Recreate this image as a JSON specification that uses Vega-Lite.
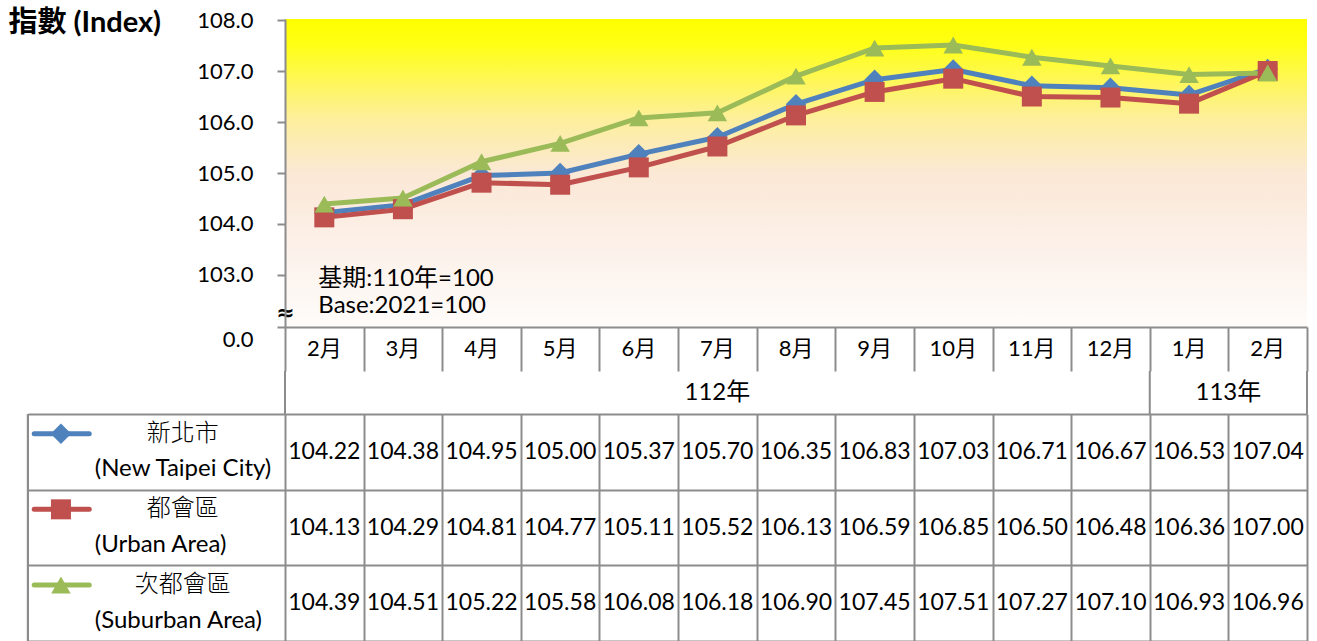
{
  "$schema": "https://vega.github.io/schema/vega-lite/v6.json",
  "background": "white",
  "padding": {"left": 8, "top": 8, "right": 8, "bottom": 0},
  "spacing": 0,
  "bounds": "flush",
  "resolve": {"scale": {"x": "independent", "y": "independent"}},
  "config": {
    "font": "Lato, 'Noto Sans CJK TC'",
    "view": {"stroke": null},
    "axis": {"gridColor": "#8c8c8c", "gridWidth": 2, "gridOpacity": 1, "domainColor": "#8c8c8c", "domainWidth": 2, "tickColor": "#8c8c8c", "tickWidth": 2}
  },
  "datasets": {
    "main": [
      {"key": "112年2月", "series": "新北市", "value": 104.22},
      {"key": "112年3月", "series": "新北市", "value": 104.38},
      {"key": "112年4月", "series": "新北市", "value": 104.95},
      {"key": "112年5月", "series": "新北市", "value": 105.00},
      {"key": "112年6月", "series": "新北市", "value": 105.37},
      {"key": "112年7月", "series": "新北市", "value": 105.70},
      {"key": "112年8月", "series": "新北市", "value": 106.35},
      {"key": "112年9月", "series": "新北市", "value": 106.83},
      {"key": "112年10月", "series": "新北市", "value": 107.03},
      {"key": "112年11月", "series": "新北市", "value": 106.71},
      {"key": "112年12月", "series": "新北市", "value": 106.67},
      {"key": "113年1月", "series": "新北市", "value": 106.53},
      {"key": "113年2月", "series": "新北市", "value": 107.04},
      {"key": "112年2月", "series": "都會區", "value": 104.13},
      {"key": "112年3月", "series": "都會區", "value": 104.29},
      {"key": "112年4月", "series": "都會區", "value": 104.81},
      {"key": "112年5月", "series": "都會區", "value": 104.77},
      {"key": "112年6月", "series": "都會區", "value": 105.11},
      {"key": "112年7月", "series": "都會區", "value": 105.52},
      {"key": "112年8月", "series": "都會區", "value": 106.13},
      {"key": "112年9月", "series": "都會區", "value": 106.59},
      {"key": "112年10月", "series": "都會區", "value": 106.85},
      {"key": "112年11月", "series": "都會區", "value": 106.50},
      {"key": "112年12月", "series": "都會區", "value": 106.48},
      {"key": "113年1月", "series": "都會區", "value": 106.36},
      {"key": "113年2月", "series": "都會區", "value": 107.00},
      {"key": "112年2月", "series": "次都會區", "value": 104.39},
      {"key": "112年3月", "series": "次都會區", "value": 104.51},
      {"key": "112年4月", "series": "次都會區", "value": 105.22},
      {"key": "112年5月", "series": "次都會區", "value": 105.58},
      {"key": "112年6月", "series": "次都會區", "value": 106.08},
      {"key": "112年7月", "series": "次都會區", "value": 106.18},
      {"key": "112年8月", "series": "次都會區", "value": 106.90},
      {"key": "112年9月", "series": "次都會區", "value": 107.45},
      {"key": "112年10月", "series": "次都會區", "value": 107.51},
      {"key": "112年11月", "series": "次都會區", "value": 107.27},
      {"key": "112年12月", "series": "次都會區", "value": 107.10},
      {"key": "113年1月", "series": "次都會區", "value": 106.93},
      {"key": "113年2月", "series": "次都會區", "value": 106.96}
    ],
    "months": [
      {"key": "112年2月", "month": "2月"},
      {"key": "112年3月", "month": "3月"},
      {"key": "112年4月", "month": "4月"},
      {"key": "112年5月", "month": "5月"},
      {"key": "112年6月", "month": "6月"},
      {"key": "112年7月", "month": "7月"},
      {"key": "112年8月", "month": "8月"},
      {"key": "112年9月", "month": "9月"},
      {"key": "112年10月", "month": "10月"},
      {"key": "112年11月", "month": "11月"},
      {"key": "112年12月", "month": "12月"},
      {"key": "113年1月", "month": "1月"},
      {"key": "113年2月", "month": "2月"}
    ],
    "legend": [
      {"series": "新北市", "en": "(New Taipei City)"},
      {"series": "都會區", "en": "(Urban Area)"},
      {"series": "次都會區", "en": "(Suburban Area)"}
    ]
  },
  "vconcat": [
    {
      "width": 1022,
      "height": 308,
      "view": {
        "stroke": null,
        "fill": {
          "gradient": "linear", "x1": 0, "y1": 0, "x2": 0, "y2": 1,
          "stops": [
            {"offset": 0, "color": "#ffff00"},
            {"offset": 0.08, "color": "#ffff14"},
            {"offset": 0.32, "color": "#fdef9a"},
            {"offset": 0.5, "color": "#fbe8d6"},
            {"offset": 0.75, "color": "#fcf1ea"},
            {"offset": 1, "color": "#fefcfa"}
          ]
        }
      },
      "layer": [
        {
          "data": {"name": "main"},
          "mark": {"type": "line", "strokeWidth": 5, "strokeJoin": "round", "strokeCap": "round"},
          "encoding": {
            "x": {
              "field": "key", "type": "ordinal", "sort": null,
              "scale": {"type": "point", "padding": 0.5, "domain": ["112年2月","112年3月","112年4月","112年5月","112年6月","112年7月","112年8月","112年9月","112年10月","112年11月","112年12月","113年1月","113年2月"]},
              "axis": {"orient": "bottom", "labels": false, "ticks": false, "domain": true, "grid": false, "title": null}
            },
            "y": {
              "field": "value", "type": "quantitative",
              "scale": {"domain": [101.98, 108.02], "nice": false, "zero": false},
              "axis": {
                "values": [101.98, 102.27, 103, 104, 105, 106, 107, 108],
                "labelExpr": "datum.value < 102.1 ? '0.0' : (datum.value < 102.5 ? '≈' : format(datum.value, '.1f'))",
                "labelOverlap": false,
                "labelFont": {"condition": {"test": "datum.value > 102.1 && datum.value < 102.5", "value": "DejaVu Sans"}, "value": "Lato"},
                "labelFontSize": {"condition": {"test": "datum.value > 102.1 && datum.value < 102.5", "value": 22}, "value": 22},
                "labelColor": "#000000",
                "grid": false,
                "domain": true,
                "tickSize": 8,
                "tickColor": {"condition": {"test": "datum.value > 102.1 && datum.value < 102.5", "value": "transparent"}, "value": "#8c8c8c"},
                "labelPadding": {"condition": {"test": "datum.value > 102.1 && datum.value < 102.5", "value": -8}, "value": 24},
                "labelAlign": {"condition": {"test": "datum.value > 102.1 && datum.value < 102.5", "value": "center"}, "value": "right"},
                "labelFontWeight": {"condition": {"test": "datum.value > 102.1 && datum.value < 102.5", "value": "bold"}, "value": "normal"},
                "labelOffset": {"condition": {"test": "datum.value < 102.1", "value": 12}, "value": 0},
                "title": "指數 (Index)",
                "titleAngle": 0,
                "titleAlign": "left",
                "titleBaseline": "middle",
                "titleX": -277,
                "titleY": 3,
                "titleFontSize": 29,
                "titleFontWeight": "bold",
                "titleColor": "#000000"
              }
            },
            "color": {"field": "series", "type": "nominal", "scale": {"domain": ["新北市", "都會區", "次都會區"], "range": ["#4F81BD", "#C0504D", "#9BBB59"]}, "legend": null}
          }
        },
        {
          "data": {"name": "main"},
          "mark": {"type": "point", "filled": true, "opacity": 1, "strokeWidth": 0},
          "encoding": {
            "x": {"field": "key", "type": "ordinal", "sort": null},
            "y": {"field": "value", "type": "quantitative"},
            "color": {"field": "series", "type": "nominal", "legend": null},
            "shape": {"field": "series", "type": "nominal", "scale": {"domain": ["新北市", "都會區", "次都會區"], "range": ["diamond", "square", "triangle-up"]}, "legend": null},
            "size": {"field": "series", "type": "nominal", "scale": {"domain": ["新北市", "都會區", "次都會區"], "range": [420, 380, 420]}, "legend": null}
          }
        },
        {
          "data": {"values": [{}]},
          "mark": {"type": "text", "align": "left", "baseline": "middle", "dx": -6, "fontSize": 24, "lineHeight": 27, "color": "#000000", "text": ["基期:110年=100", "Base:2021=100"]},
          "encoding": {
            "x": {"datum": "112年2月", "type": "ordinal"},
            "y": {"datum": 102.92, "type": "quantitative"}
          }
        }
      ]
    },
    {
      "width": 1022,
      "height": 44,
      "data": {"name": "months"},
      "mark": {"type": "text", "fontSize": 22, "color": "#000000", "baseline": "middle"},
      "encoding": {
        "x": {
          "field": "key", "type": "ordinal", "sort": null,
          "scale": {"type": "band", "paddingInner": 0, "paddingOuter": 0, "domain": ["112年2月","112年3月","112年4月","112年5月","112年6月","112年7月","112年8月","112年9月","112年10月","112年11月","112年12月","113年1月","113年2月"]},
          "axis": {"orient": "bottom", "grid": true, "tickBand": "extent", "labels": false, "ticks": false, "domain": false, "title": null}
        },
        "text": {"field": "month"}
      }
    },
    {
      "width": 1022,
      "height": 43,
      "layer": [
        {
          "data": {"values": [{"key": "112年2月"}, {"key": "113年1月"}]},
          "mark": {"type": "rule", "color": "#8c8c8c", "strokeWidth": 2},
          "encoding": {
            "x": {
              "field": "key", "type": "ordinal", "sort": null, "bandPosition": 0,
              "scale": {"type": "band", "paddingInner": 0, "paddingOuter": 0, "domain": ["112年2月","112年3月","112年4月","112年5月","112年6月","112年7月","112年8月","112年9月","112年10月","112年11月","112年12月","113年1月","113年2月"]},
              "axis": null
            }
          }
        },
        {
          "data": {"values": [{"key": "113年2月"}]},
          "mark": {"type": "rule", "color": "#8c8c8c", "strokeWidth": 2},
          "encoding": {
            "x": {"field": "key", "type": "ordinal", "sort": null, "bandPosition": 1, "axis": null}
          }
        },
        {
          "data": {"values": [{"key": "112年7月", "year": "112年"}]},
          "mark": {"type": "text", "fontSize": 24, "color": "#000000", "baseline": "middle"},
          "encoding": {
            "x": {"field": "key", "type": "ordinal", "sort": null, "bandPosition": 0.5, "axis": null},
            "text": {"field": "year"}
          }
        },
        {
          "data": {"values": [{"key": "113年2月", "year": "113年"}]},
          "mark": {"type": "text", "fontSize": 24, "color": "#000000", "baseline": "middle"},
          "encoding": {
            "x": {"field": "key", "type": "ordinal", "sort": null, "bandPosition": 0, "axis": null},
            "text": {"field": "year"}
          }
        }
      ]
    },
    {
      "width": 1022,
      "height": 227,
      "resolve": {"scale": {"x": "independent"}, "axis": {"x": "independent"}},
      "layer": [
        {
          "data": {"name": "main"},
          "mark": {"type": "text", "fontSize": 23, "color": "#000000", "baseline": "middle"},
          "encoding": {
            "x": {
              "field": "key", "type": "ordinal", "sort": null,
              "scale": {"type": "band", "paddingInner": 0, "paddingOuter": 0, "domain": ["112年2月","112年3月","112年4月","112年5月","112年6月","112年7月","112年8月","112年9月","112年10月","112年11月","112年12月","113年1月","113年2月"]},
              "axis": {"orient": "bottom", "grid": true, "tickBand": "extent", "labels": false, "ticks": false, "domain": false, "title": null}
            },
            "y": {
              "field": "series", "type": "nominal", "sort": null,
              "scale": {"type": "band", "paddingInner": 0, "paddingOuter": 0, "domain": ["新北市", "都會區", "次都會區"]},
              "axis": {"grid": true, "tickBand": "extent", "ticks": true, "tickSize": 257, "labels": false, "domain": false, "title": null}
            },
            "text": {"field": "value", "type": "quantitative", "format": ".2f"}
          }
        },
        {
          "data": {"name": "legend"},
          "layer": [
            {
              "mark": {"type": "rule", "color": "#8c8c8c", "strokeWidth": 2},
              "encoding": {
                "x": {"datum": -3.27, "type": "quantitative", "scale": {"domain": [0, 13], "nice": false, "zero": false}, "axis": null}
              }
            },
            {
              "mark": {"type": "rule", "strokeWidth": 5, "strokeCap": "round"},
              "encoding": {
                "x": {"datum": -3.19, "type": "quantitative", "axis": null},
                "x2": {"datum": -2.49},
                "y": {"field": "series", "type": "nominal", "sort": null, "bandPosition": 0.26},
                "color": {"field": "series", "type": "nominal", "legend": null}
              }
            },
            {
              "mark": {"type": "point", "filled": true, "opacity": 1, "strokeWidth": 0},
              "encoding": {
                "x": {"datum": -2.85, "type": "quantitative", "axis": null},
                "y": {"field": "series", "type": "nominal", "sort": null, "bandPosition": 0.26},
                "color": {"field": "series", "type": "nominal", "legend": null},
                "shape": {"field": "series", "type": "nominal", "legend": null},
                "size": {"field": "series", "type": "nominal", "scale": {"domain": ["新北市", "都會區", "次都會區"], "range": [200, 260, 300]}, "legend": null}
              }
            },
            {
              "mark": {"type": "text", "fontSize": 24, "fontWeight": 300, "color": "#000000", "align": "center", "baseline": "middle"},
              "encoding": {
                "x": {"datum": -1.3, "type": "quantitative", "axis": null},
                "y": {"field": "series", "type": "nominal", "sort": null, "bandPosition": 0.26},
                "text": {"field": "series"}
              }
            },
            {
              "mark": {"type": "text", "fontSize": 24, "color": "#000000", "align": "left", "baseline": "middle"},
              "encoding": {
                "x": {"datum": -2.42, "type": "quantitative", "axis": null},
                "y": {"field": "series", "type": "nominal", "sort": null, "bandPosition": 0.73},
                "text": {"field": "en"}
              }
            }
          ]
        }
      ]
    }
  ]
}
